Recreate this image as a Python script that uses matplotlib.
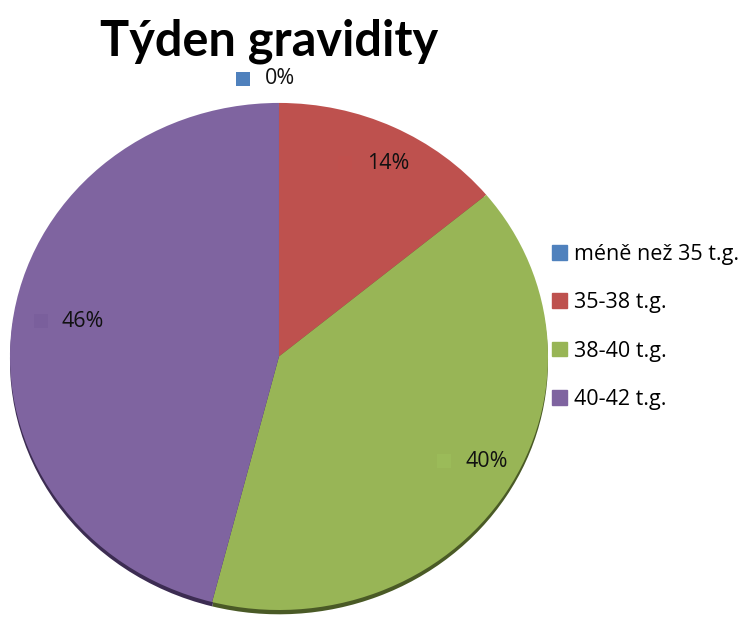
import numpy as np
import matplotlib
matplotlib.use("Agg")
import matplotlib.pyplot as plt
from matplotlib.transforms import ScaledTranslation

# Data
categories = ["méně než 35 t.g.", "35-38 t.g.", "38-40 t.g.", "40-42 t.g."]
shares = [0, 14, 40, 46]
colors = ["#4F81BD", "#BE514E", "#98B556", "#7F64A0"]
key_colors = ["#4F81BD", "#C0504D", "#9BBB59", "#7A5F9C"]
edge_colors = ["#2B4868", "#6A2A28", "#4A5A26", "#3C2C52"]
title = "Týden gravidity"

FONT = "Open Sans"
TEXT_SIZE = 15.5

fig = plt.figure(figsize=(7.53, 6.28), dpi=100)
ax = fig.add_axes([0, 0, 1, 1])

# Darker copy slightly below gives the pie its thin 3D rim
ax.pie(shares, colors=edge_colors, startangle=90, counterclock=False,
       center=(0, -0.017), radius=1.0, wedgeprops=dict(linewidth=0))
wedges, _ = ax.pie(shares, colors=colors, startangle=90, counterclock=False,
                   center=(0, 0), radius=1.0, wedgeprops=dict(linewidth=0))

ax.set_aspect("auto")
ax.set_xlim(-1.037, 1.762)
ax.set_ylim(-1.071, 1.406)
ax.axis("off")

# Percentage labels with small colour keys, placed along each wedge's mid-angle
label_radius = [1.10, 0.867, 0.874, 0.743]
label_nudge_pts = [(1, -1), (7, -4), (7, 10), (1.5, 8.5)]
key_offset_pts = [-27, -31, -31, -30]
for w, val, kc, r, (nx, ny), ko in zip(wedges, shares, key_colors,
                                       label_radius, label_nudge_pts,
                                       key_offset_pts):
    mid = np.deg2rad((w.theta1 + w.theta2) / 2)
    x, y = r * np.cos(mid), r * np.sin(mid)
    ax.annotate(f"{val}%", (x, y), xytext=(nx, ny), textcoords="offset points",
                ha="center", va="center", fontsize=TEXT_SIZE, family=FONT,
                color="#111111")
    ax.plot([x], [y], marker="s", markersize=10.5, color=kc, linestyle="none",
            markeredgewidth=0,
            transform=ax.transData + ScaledTranslation(
                (nx + ko) / 72, ny / 72, fig.dpi_scale_trans))

# Legend
handles = [plt.Rectangle((0, 0), 1, 1, color=c) for c in colors]
leg = fig.legend(handles, categories, loc="upper left",
                 bbox_to_anchor=(0.733, 0.611), frameon=False,
                 prop=dict(family=FONT, size=TEXT_SIZE), handlelength=0.68,
                 handleheight=0.68, handletextpad=0.35, labelspacing=1.26,
                 borderaxespad=0, borderpad=0)

fig.text(0.357, 0.935, title, ha="center", va="center",
         fontsize=35, fontweight="bold", family="Lato", color="black")

fig.savefig("out.png", dpi=100)
